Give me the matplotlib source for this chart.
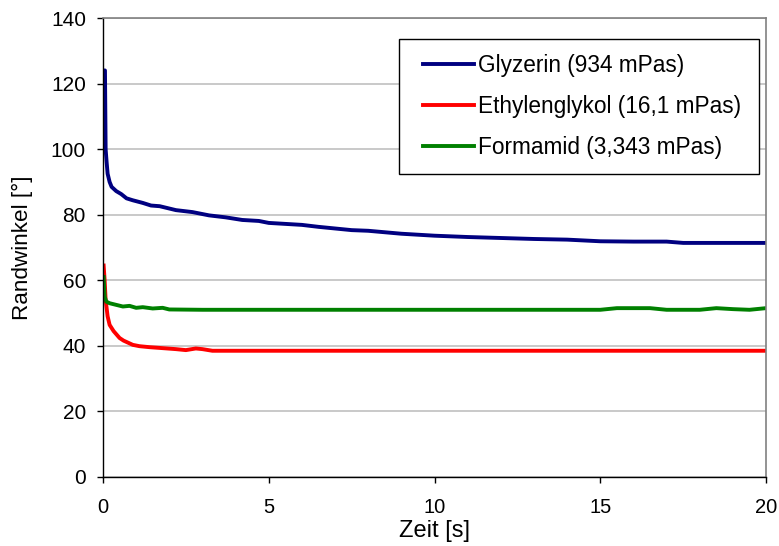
import matplotlib
matplotlib.use("Agg")
import matplotlib.pyplot as plt
from matplotlib.legend_handler import HandlerLine2D

# Glyzerin (934 mPas)
t_gly = [0.04, 0.06, 0.08, 0.11, 0.14, 0.2, 0.26, 0.4, 0.55, 0.71, 0.9, 1.2,
         1.45, 1.71, 2.2, 2.7, 3.2, 3.7, 4.2, 4.7, 5.0, 5.5, 6.0, 6.5, 7.0,
         7.5, 8.0, 9.0, 10.0, 11.0, 12.0, 13.0, 14.0, 15.0, 16.0, 17.0,
         17.5, 18.5, 20.0]
v_gly = [124.0, 124.0, 100.0, 96.0, 92.5, 90.0, 88.5, 87.2, 86.3, 85.0,
         84.4, 83.6, 82.8, 82.6, 81.4, 80.8, 79.8, 79.2, 78.4, 78.1, 77.5,
         77.2, 76.9, 76.3, 75.8, 75.3, 75.1, 74.2, 73.6, 73.2, 72.9, 72.6,
         72.4, 71.9, 71.8, 71.8, 71.4, 71.4, 71.4]

# Ethylenglykol (16,1 mPas)
t_eth = [0.02, 0.05, 0.08, 0.14, 0.2, 0.32, 0.5, 0.62, 0.9, 1.1, 1.4, 1.8,
         2.2, 2.5, 2.8, 3.0, 3.3, 5.0, 10.0, 15.0, 20.0]
v_eth = [64.5, 60.0, 54.0, 49.0, 46.4, 44.5, 42.4, 41.6, 40.3, 39.9, 39.6,
         39.3, 39.0, 38.7, 39.2, 39.0, 38.5, 38.5, 38.5, 38.5, 38.5]

# Formamid (3,343 mPas)
t_form = [0.02, 0.05, 0.1, 0.2, 0.4, 0.6, 0.8, 1.0, 1.2, 1.5, 1.8, 2.0,
          3.0, 5.0, 10.0, 15.0, 15.5, 16.5, 17.0, 18.0, 18.5, 19.0, 19.5,
          20.0]
v_form = [61.0, 55.0, 53.5, 53.0, 52.5, 52.0, 52.2, 51.6, 51.8, 51.4, 51.6,
          51.1, 51.0, 51.0, 51.0, 51.0, 51.5, 51.5, 51.0, 51.0, 51.5, 51.2,
          51.0, 51.5]

plt.rcParams["font.family"] = ["Liberation Sans", "DejaVu Sans"]
plt.rcParams["xtick.labelsize"] = 14.5
plt.rcParams["ytick.labelsize"] = 15

fig = plt.figure(figsize=(7.79, 5.46), dpi=100)
ax = fig.add_axes([0.1322, 0.1264, 0.8512, 0.8406])

ax.plot(t_gly, v_gly, color="#000080", lw=2.8, label="Glyzerin (934 mPas)")
ax.plot(t_eth, v_eth, color="#ff0000", lw=2.8, label="Ethylenglykol (16,1 mPas)")
ax.plot(t_form, v_form, color="#008000", lw=2.8, label="Formamid (3,343 mPas)")

ax.set_xlim(0, 20)
ax.set_ylim(0, 140)
ax.set_xticks([0, 5, 10, 15, 20])
ax.set_yticks(range(0, 141, 20))
ax.yaxis.grid(True, color="#c0c0c0", lw=1.2)
ax.set_axisbelow(True)

for s in ["left", "bottom"]:
    ax.spines[s].set_color("black")
    ax.spines[s].set_linewidth(1.0)
for s in ["top", "right"]:
    ax.spines[s].set_color("#808080")
    ax.spines[s].set_linewidth(1.2)

ax.tick_params(axis="both", direction="out", length=4.3, width=1.0, colors="black")
ax.tick_params(axis="x", pad=11)
ax.tick_params(axis="y", pad=8)

ax.set_xlabel("Zeit [s]", fontsize=17, labelpad=2)
ax.set_ylabel("Randwinkel [°]", fontsize=16.2, labelpad=13)

# legend box spans 399..759 px horizontally, top at 39 px
leg = ax.legend(loc="upper left", bbox_to_anchor=(0.4465, 0.5, 0.543, 0.4542),
                mode="expand", fontsize=16.3,
                fancybox=False, framealpha=1, edgecolor="black",
                handlelength=2.67, handletextpad=0.15, labelspacing=0.8,
                borderpad=0.65, borderaxespad=0,
                handler_map={plt.Line2D: HandlerLine2D(xpad=0.41)})
leg.get_frame().set_linewidth(1.0)

fig.savefig("out.png", dpi=100)
